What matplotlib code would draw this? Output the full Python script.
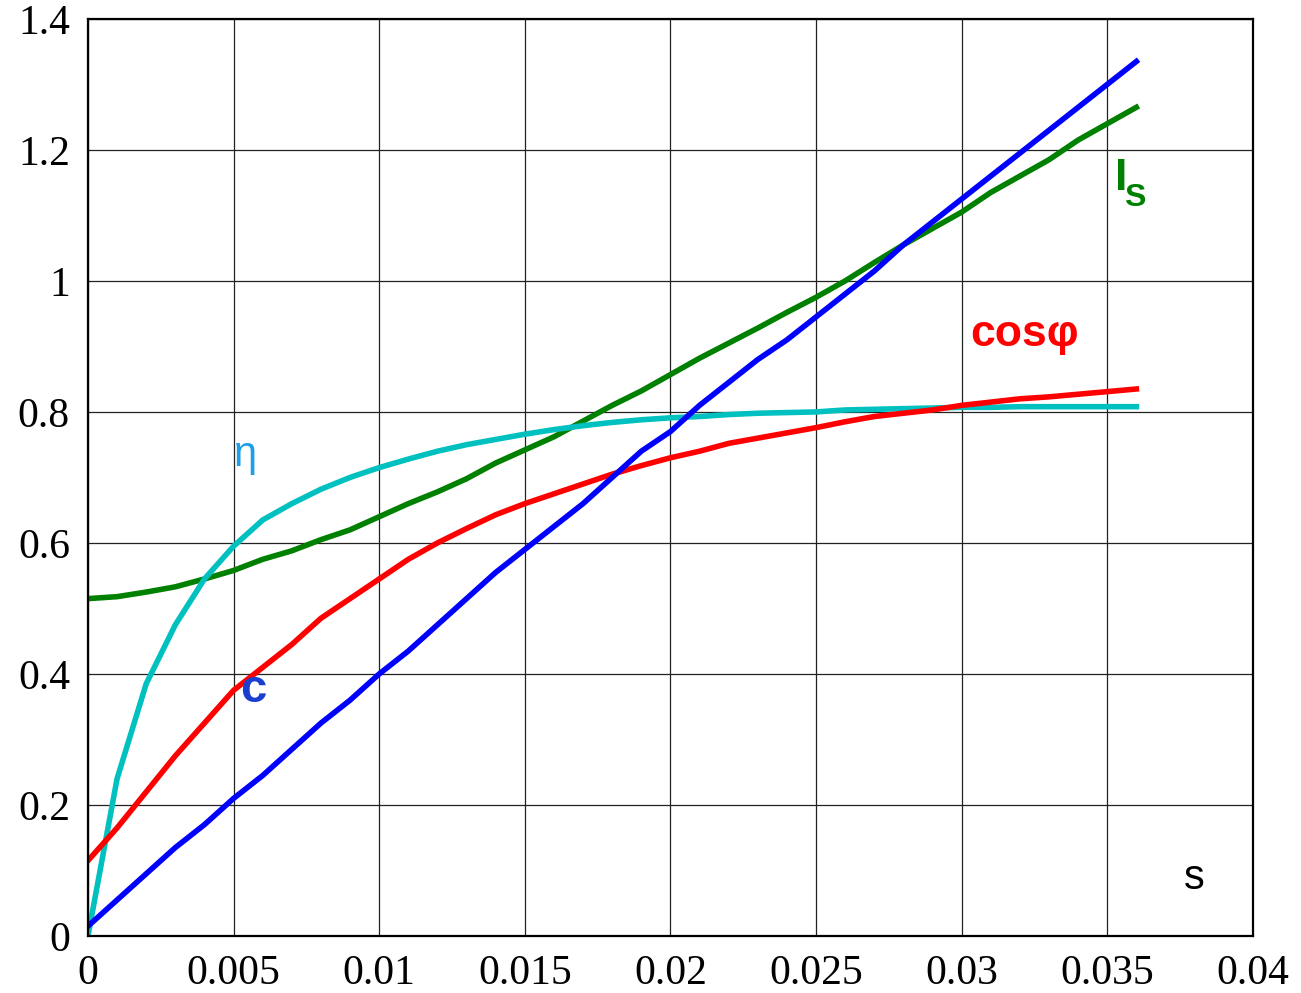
import matplotlib.pyplot as plt
import numpy as np

# slip values
s = np.arange(37) * 0.001

c_vals = [0.015, 0.055, 0.095, 0.135, 0.17, 0.21, 0.245, 0.285, 0.325, 0.36,
          0.40, 0.435, 0.475, 0.515, 0.555, 0.59, 0.625, 0.66, 0.70, 0.74,
          0.77, 0.81, 0.845, 0.88, 0.91, 0.945, 0.98, 1.015, 1.055, 1.09,
          1.125, 1.16, 1.195, 1.23, 1.265, 1.30, 1.335]
is_vals = [0.515, 0.518, 0.525, 0.533, 0.545, 0.558, 0.575, 0.588, 0.605, 0.62,
           0.64, 0.66, 0.678, 0.698, 0.722, 0.742, 0.762, 0.786, 0.81, 0.832,
           0.857, 0.882, 0.905, 0.928, 0.952, 0.975, 1.0, 1.028, 1.055, 1.08,
           1.105, 1.135, 1.16, 1.185, 1.215, 1.24, 1.265]
cos_vals = [0.115, 0.165, 0.22, 0.275, 0.325, 0.375, 0.41, 0.445, 0.485, 0.515,
            0.545, 0.575, 0.60, 0.622, 0.643, 0.66, 0.675, 0.69, 0.705, 0.718,
            0.73, 0.74, 0.752, 0.76, 0.768, 0.776, 0.785, 0.793, 0.798, 0.803,
            0.81, 0.815, 0.82, 0.823, 0.827, 0.831, 0.835]
eta_vals = [0.0, 0.24, 0.385, 0.475, 0.545, 0.595, 0.635, 0.66, 0.682, 0.70,
            0.715, 0.728, 0.74, 0.75, 0.758, 0.766, 0.773, 0.779, 0.784, 0.788,
            0.791, 0.793, 0.796, 0.798, 0.799, 0.80, 0.803, 0.804, 0.805, 0.806,
            0.807, 0.807, 0.808, 0.808, 0.808, 0.808, 0.808]

x_ticks = [0, 0.005, 0.01, 0.015, 0.02, 0.025, 0.03, 0.035, 0.04]
x_ticklabels = ["0", "0.005", "0.01", "0.015", "0.02", "0.025", "0.03", "0.035", "0.04"]
y_ticks = [0, 0.2, 0.4, 0.6, 0.8, 1.0, 1.2, 1.4]
y_ticklabels = ["0", "0.2", "0.4", "0.6", "0.8", "1", "1.2", "1.4"]

fig = plt.figure(figsize=(13.01, 9.93), dpi=100)
ax = fig.add_axes([0.0676, 0.0574, 0.8954, 0.9236])

lw = 4.0
ax.plot(s, is_vals, color="#008000", lw=lw)
ax.plot(s, eta_vals, color="#00c0c0", lw=lw)
ax.plot(s, cos_vals, color="#ff0000", lw=lw)
ax.plot(s, c_vals, color="#0000ff", lw=lw)

ax.set_xlim(0, 0.04)
ax.set_ylim(0, 1.4)
ax.set_xticks(x_ticks)
ax.set_xticklabels(x_ticklabels)
ax.set_yticks(y_ticks)
ax.set_yticklabels(y_ticklabels)
ax.grid(True, color="#222222", lw=0.9)
ax.set_axisbelow(True)
ax.tick_params(length=0, pad=13)
for lab in ax.get_xticklabels() + ax.get_yticklabels():
    lab.set_family(["Liberation Serif", "DejaVu Serif"])
    lab.set_fontsize(30)
for sp in ax.spines.values():
    sp.set_linewidth(1.6)

sans = ["Liberation Sans", "DejaVu Sans"]
ax.text(0.00542, 0.734, "η", color="#1a9fe8", fontsize=30, family=sans, ha="center", va="center")
ax.text(0.03217, 0.9175, "cosφ", color="#ff0000", fontsize=32, fontweight="bold", family=sans, ha="center", va="center")
ax.text(0.03547, 1.157, "I", color="#008000", fontsize=32, fontweight="bold", family=sans, ha="center", va="center")
ax.text(0.03595, 1.127, "S", color="#008000", fontsize=23, fontweight="bold", family=sans, ha="center", va="center")
ax.text(0.00567, 0.3756, "c", color="#1a3fd0", fontsize=34, fontweight="bold", family=sans, ha="center", va="center")
ax.text(0.0380, 0.0886, "s", color="black", fontsize=30, family=sans, ha="center", va="center")

fig.savefig("out.png", dpi=100)
